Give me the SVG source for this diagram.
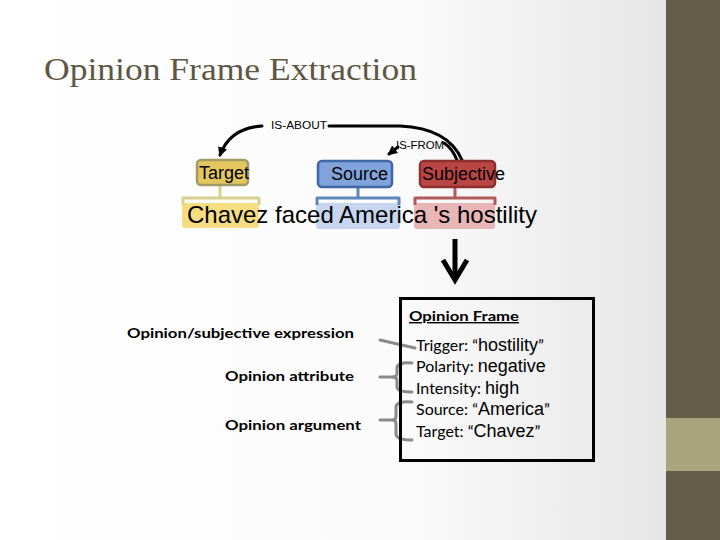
<svg xmlns="http://www.w3.org/2000/svg" width="720" height="540" viewBox="0 0 720 540">
<defs>
<linearGradient id="bg" x1="0" y1="0" x2="666" y2="0" gradientUnits="userSpaceOnUse">
<stop offset="0" stop-color="#FFFFFF"/>
<stop offset="0.6" stop-color="#FBFBFB"/>
<stop offset="1" stop-color="#E6E6E6"/>
</linearGradient>
<marker id="ah" viewBox="0 0 10 10" refX="8" refY="5" markerWidth="3.2" markerHeight="3.2" orient="auto" markerUnits="strokeWidth">
<path d="M0,0 L10,5 L0,10 z" fill="#000"/>
</marker>
<style>
.sans{font-family:"Liberation Sans",Arial,sans-serif;fill:#000}
.cal{font-family:Lato,"Open Sans",sans-serif;fill:#000}
.rel{font-family:"Liberation Sans",Arial,sans-serif;font-size:11.5px;fill:#000}
.arc{fill:none;stroke:#000;stroke-width:3;stroke-linecap:round}
.br{fill:none;stroke-width:3;stroke-linejoin:round}
.gr{fill:none;stroke:#8A8A8A;stroke-width:3;stroke-linecap:round;stroke-linejoin:round}
.lbl{font-family:Lato,"Open Sans",sans-serif;font-weight:bold;font-size:14px;fill:#000}
</style>
</defs>
<rect x="0" y="0" width="720" height="540" fill="url(#bg)"/>
<rect x="666" y="0" width="54" height="540" fill="#655D47"/>
<rect x="666" y="418" width="54" height="53" fill="#A9A57E"/>

<text x="44" y="80" font-family="Liberation Serif,Times New Roman,serif" font-size="32" fill="#5E5744" textLength="373" lengthAdjust="spacingAndGlyphs">Opinion Frame Extraction</text>

<g id="highlights">
<rect x="182" y="203" width="77" height="25" rx="3" fill="#F5DD80"/>
<rect x="316" y="203" width="84" height="26" rx="3" fill="#C7D6EE"/>
<rect x="414" y="203" width="81" height="26" rx="3" fill="#E8B6B6"/>
</g>

<g id="connectors">
<path class="arc" d="M329 126 L400 126 Q448 128 462 160"/>
<path class="arc" d="M444 143 Q452 148 457 160"/>
<path class="arc" d="M262 126 Q230 128 220 155" marker-end="url(#ah)"/>
<path class="arc" d="M398 147 L389 154" marker-end="url(#ah)"/>
<path class="br" stroke="#D9CF8E" d="M183 205 V198 H259 V205 M220 186 V198"/>
<path class="br" stroke="#5D87BB" d="M317 205 V198 H399 V205 M358 187 V198"/>
<path class="br" stroke="#B35959" d="M415 205 V198 H495 V205 M455 187 V198"/>
<path d="M455 239 V278" stroke="#000" stroke-width="5" fill="none"/>
<polyline points="443,260 455,280 467,260" stroke="#000" stroke-width="5" fill="none" stroke-linejoin="miter"/>
<path class="gr" d="M380 340 L415 348"/>
<path class="gr" d="M380 377 H394"/>
<path class="gr" d="M412 363 Q397 362 397 368 V373 Q397 377 393 377 Q397 377 397 381 V387 Q397 392 412 392"/>
<path class="gr" d="M380 420 H394"/>
<path class="gr" d="M412 402 Q396 401 396 407 V416 Q396 420 393 420 Q396 420 396 424 V434 Q396 440 412 440"/>
</g>

<g id="is-about"><text class="rel" x="271" y="129" textLength="56" lengthAdjust="spacingAndGlyphs">IS-ABOUT</text></g>
<g id="is-from"><text class="rel" x="396" y="149" textLength="48" lengthAdjust="spacingAndGlyphs">IS-FROM</text></g>

<g id="target">
<rect x="197" y="160" width="51" height="25" rx="4" fill="#E3C75E" stroke="#A39B66" stroke-width="2.5"/>
<text class="sans" x="199" y="179" font-size="18">Target</text>
</g>
<g id="source">
<rect x="318" y="161" width="74" height="26" rx="4" fill="#7FA3DA" stroke="#3F67A3" stroke-width="2.5"/>
<text class="sans" x="331" y="180" font-size="18">Source</text>
</g>
<g id="subjective">
<rect x="420" y="161" width="75" height="26" rx="4" fill="#B94545" stroke="#8E2F2F" stroke-width="2.5"/>
<text class="sans" x="422" y="180" font-size="18">Subjective</text>
</g>

<g id="sentence">
<text class="sans" x="187" y="223" font-size="24" textLength="350" lengthAdjust="spacingAndGlyphs">Chavez faced America 's hostility</text>
</g>

<g id="expression"><text class="lbl" x="127" y="338" textLength="227" lengthAdjust="spacingAndGlyphs">Opinion/subjective expression</text></g>
<g id="attribute"><text class="lbl" x="225" y="381" textLength="129" lengthAdjust="spacingAndGlyphs">Opinion attribute</text></g>
<g id="argument"><text class="lbl" x="225" y="430" textLength="136" lengthAdjust="spacingAndGlyphs">Opinion argument</text></g>

<g id="opinion-frame">
<rect x="400.5" y="298.5" width="193" height="162" fill="none" stroke="#000" stroke-width="3"/>
<text class="cal" x="409" y="321" font-size="14" font-weight="bold" text-decoration="underline" textLength="110" lengthAdjust="spacingAndGlyphs">Opinion Frame</text>
<text x="416" y="351"><tspan class="cal" font-size="16">Trigger: “</tspan><tspan class="sans" font-size="18">hostility</tspan><tspan class="cal" font-size="16">”</tspan></text>
<text x="416" y="372"><tspan class="cal" font-size="16">Polarity: </tspan><tspan class="sans" font-size="18">negative</tspan></text>
<text x="416" y="394"><tspan class="cal" font-size="16">Intensity: </tspan><tspan class="sans" font-size="18">high</tspan></text>
<text x="416" y="415"><tspan class="cal" font-size="16">Source: “</tspan><tspan class="sans" font-size="18">America</tspan><tspan class="cal" font-size="16">”</tspan></text>
<text x="416" y="437"><tspan class="cal" font-size="16">Target: “</tspan><tspan class="sans" font-size="18">Chavez</tspan><tspan class="cal" font-size="16">”</tspan></text>
</g>
</svg>
